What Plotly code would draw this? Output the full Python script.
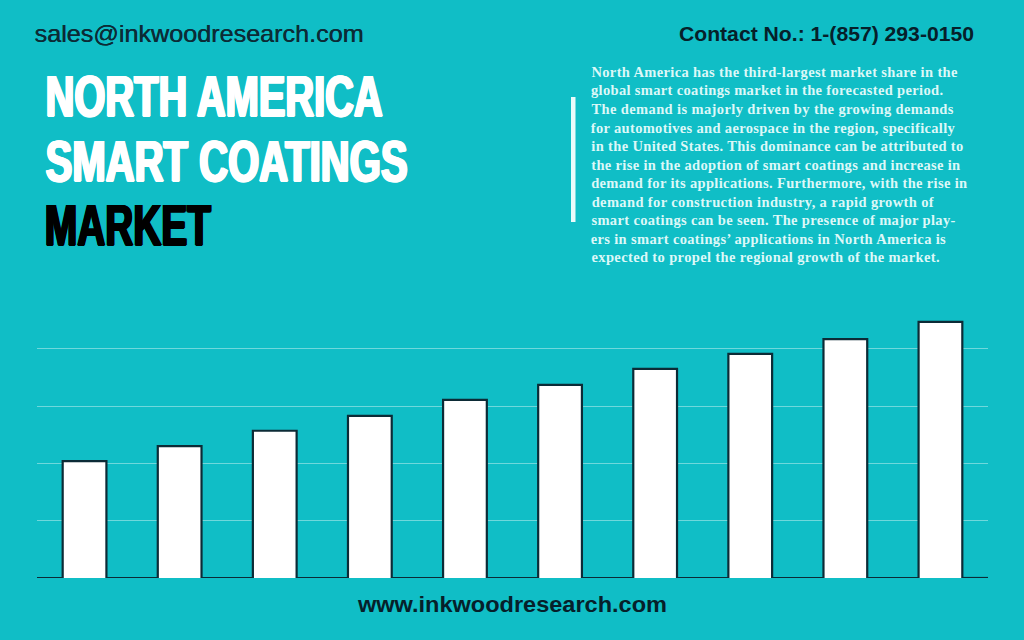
import json
import plotly.graph_objects as go

# Bar heights, in gridline units (no axis labels in the original)
periods = ["P1", "P2", "P3", "P4", "P5", "P6", "P7", "P8", "P9", "P10"]
values = [2.04, 2.30, 2.57, 2.83, 3.11, 3.37, 3.65, 3.91, 4.17, 4.47]
grid_ticks = [1, 2, 3, 4]

title_lines = ["NORTH AMERICA", "SMART COATINGS"]
title_dark = "MARKET"
email = "sales@inkwoodresearch.com"
contact = "Contact No.: 1-(857) 293-0150"
website = "www.inkwoodresearch.com"
body_lines = [
    "North America has the third-largest market share in the",
    "global smart coatings market in the forecasted period.",
    "The demand is majorly driven by the growing demands",
    "for automotives and aerospace in the region, specifically",
    "in the United States. This dominance can be attributed to",
    "the rise in the adoption of smart coatings and increase in",
    "demand for its applications. Furthermore, with the rise in",
    "demand for construction industry, a rapid growth of",
    "smart coatings can be seen. The presence of major play-",
    "ers in smart coatings\u2019 applications in North America is",
    "expected to propel the regional growth of the market.",
]
# Right edge of each body line in the original
body_right = [957, 943, 953, 955, 963, 960, 967, 933, 955, 946, 939]

W, H = 1024, 640
BG = "#10BEC6"
DARK = "#0C2B36"
BAR_WIDTH = 0.46

annotations = []
fits = []  # one entry per annotation: target width and how to fit it


def add_text(left, right, y, s, size, color, bold=False, family="Liberation Sans", shadow=None, adjust="spacingAndGlyphs"):
    # left, right, y are page pixels; y is the middle of the line from the top
    annotations.append(dict(
        x=(left + right) / 2 / W, y=1 - y / H, xref="paper", yref="paper", text=s, showarrow=False,
        xanchor="center", yanchor="middle",
        font=dict(size=size, color=color, family=family, weight="bold" if bold else "normal",
                  shadow=shadow or "none"),
    ))
    fits.append([right - left, adjust])


# Outline runs along the baseline and up around each bar, leaving the bar bottoms open
outline_x = [-0.5]
outline_y = [0]
for i, v in enumerate(values):
    left = i - BAR_WIDTH / 2
    right = i + BAR_WIDTH / 2
    outline_x += [left, left, right, right, None, right]
    outline_y += [0, v, v, 0, None, 0]
    if i < len(values) - 1:
        outline_x += [i + 1 - BAR_WIDTH / 2, None, i + 1 - BAR_WIDTH / 2]
        outline_y += [0, None, 0]
outline_x += [len(values) - 0.5]
outline_y += [0]

fig = go.Figure()
fig.add_trace(go.Bar(x=list(range(len(values))), y=values, width=BAR_WIDTH,
                     marker=dict(color="white", line=dict(width=0)), hoverinfo="skip"))
fig.add_trace(go.Scatter(x=outline_x, y=outline_y, mode="lines",
                         line=dict(color=DARK, width=2.2), hoverinfo="skip"))

heavy = "1.6px 0 0 {c}, -1.6px 0 0 {c}, 0.8px 0.5px 0 {c}, -0.8px -0.5px 0 {c}, 0.8px -0.5px 0 {c}, -0.8px 0.5px 0 {c}"
add_text(45, 382, 96, title_lines[0], 57, "white", True, shadow=heavy.format(c="white"))
add_text(45, 407, 161, title_lines[1], 57, "white", True, shadow=heavy.format(c="white"))
add_text(45, 211, 225, title_dark, 57, "black", True, shadow=heavy.format(c="black"))
add_text(34, 363, 34, email, 24, DARK, shadow="0.4px 0 0 " + DARK)
add_text(679, 974, 34, contact, 21, "#06202A", True)
add_text(357, 666, 604, website, 22, "#06202A", True)
for i, line in enumerate(body_lines):
    add_text(591, body_right[i], 72 + i * 18.5, line, 14.5, "#DDF8F8", True, "Liberation Serif", adjust="spacing")

fig.update_layout(
    width=W, height=H,
    margin=dict(l=0, r=0, t=0, b=0),
    paper_bgcolor=BG, plot_bgcolor=BG,
    showlegend=False,
    annotations=annotations,
    shapes=[dict(type="rect", xref="paper", yref="paper", x0=571 / W, x1=575.5 / W,
                 y0=1 - 222 / H, y1=1 - 97 / H, fillcolor="#EAFBFB", line=dict(width=0))],
    xaxis=dict(domain=[37 / W, 988 / W], range=[-0.5, len(values) - 0.5],
               showgrid=False, showticklabels=False, zeroline=False, ticks=""),
    yaxis=dict(domain=[62 / H, 330 / H], range=[0, 268 / 57.3], tickvals=grid_ticks,
               showgrid=True, gridcolor="#6FD8DC", gridwidth=1,
               showticklabels=False, zeroline=False, ticks=""),
)

# The original's lettering is condensed or tracked, so fit each line to its measured width
post = """
document.body.style.margin = '0';
var fits = %s;
document.querySelectorAll('.annotation-text').forEach(function (t, i) {
    t.setAttribute('textLength', fits[i][0]);
    t.setAttribute('lengthAdjust', fits[i][1]);
});
""" % json.dumps(fits)

fig.write_html("out.html", config={"displayModeBar": False}, post_script=post)
